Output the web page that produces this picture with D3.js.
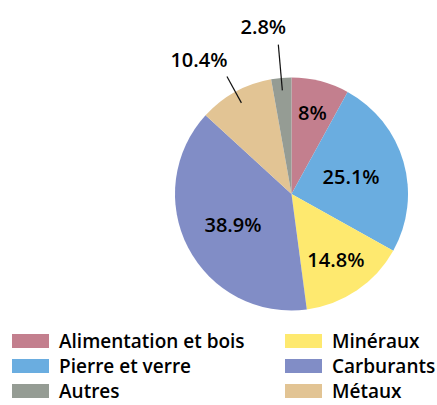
<!DOCTYPE html>
<html>
<head>
<meta charset="utf-8">
<script src="https://cdn.jsdelivr.net/npm/d3@7"></script>
<style>
  body { margin: 0; background: #fff; }
  svg text { font-family: "Open Sans", "Noto Sans", sans-serif; font-weight: 600; fill: #000; }
</style>
</head>
<body>
<script>
// data, in drawing order (clockwise from 12 o'clock)
const categories = ["Alimentation et bois", "Pierre et verre", "Minéraux", "Carburants", "Métaux", "Autres"];
const values = [8, 25.1, 14.8, 38.9, 10.4, 2.8];
const labels = ["8%", "25.1%", "14.8%", "38.9%", "10.4%", "2.8%"];
const colors = ["#c37f8e", "#6aade0", "#fee96f", "#818dc6", "#e2c494", "#959c94"];
// legend order (column by column)
const legendOrder = ["Alimentation et bois", "Pierre et verre", "Autres", "Minéraux", "Carburants", "Métaux"];

const w = 437, h = 405;
const cx = 291.5, cy = 194, radius = 116.5;

// where each label sits (radius from center); outside ones get a leader line
const labelRadius = [84, 62, 79, 66, null, null];
const leader = { 4: { r0: 104, r1: 134, dx: -28, dy: -17 }, 5: { r0: 104, r1: 150, dx: -15, dy: -18 } };

const svg = d3.select("body")
    .append("svg")
    .attr("width", w)
    .attr("height", h);

const color = d3.scaleOrdinal().domain(categories).range(colors);

const pie = d3.pie().sort(null).value(function (d) { return d.value; });
const arcs = pie(categories.map(function (c, i) { return { name: c, value: values[i], label: labels[i], i: i }; }));

const arc = d3.arc().innerRadius(0).outerRadius(radius);

const g = svg.append("g").attr("transform", "translate(" + cx + "," + cy + ")");

//slices
g.selectAll("path")
    .data(arcs)
    .enter()
    .append("path")
    .attr("d", arc)
    .attr("fill", function (d) { return color(d.data.name); });

function polar(a, r) {
    return [Math.sin(a) * r, -Math.cos(a) * r];
}

//labels
arcs.forEach(function (d) {
    const mid = (d.startAngle + d.endAngle) / 2;
    const i = d.data.i;
    let p;
    if (leader[i]) {
        const L = leader[i];
        const a = polar(mid, L.r0), b = polar(mid, L.r1);
        g.append("line")
            .attr("x1", a[0]).attr("y1", a[1])
            .attr("x2", b[0]).attr("y2", b[1])
            .attr("stroke", "#111")
            .attr("stroke-width", 1.2);
        p = [b[0] + L.dx, b[1] + L.dy];
    } else {
        p = polar(mid, labelRadius[i]);
    }
    g.append("text")
        .attr("x", p[0])
        .attr("y", p[1])
        .attr("dy", "0.36em")
        .attr("text-anchor", "middle")
        .style("font-size", "20px")
        .text(d.data.label);
});

//legend
const legend = svg.append("g");
const col = d3.scaleOrdinal().domain([0, 1]).range([12, 285]);
const row = d3.scaleLinear().domain([0, 2]).range([341, 391]);

legend.selectAll("g")
    .data(legendOrder)
    .enter()
    .append("g")
    .attr("transform", function (d, k) {
        return "translate(" + col(Math.floor(k / 3)) + "," + row(k % 3) + ")";
    })
    .each(function (d) {
        const it = d3.select(this);
        it.append("rect")
            .attr("x", 0).attr("y", -7)
            .attr("width", 37).attr("height", 14)
            .attr("fill", color(d));
        it.append("text")
            .attr("x", 47)
            .attr("dy", "0.36em")
            .style("font-size", "19px")
            .text(d);
    });
</script>
</body>
</html>
